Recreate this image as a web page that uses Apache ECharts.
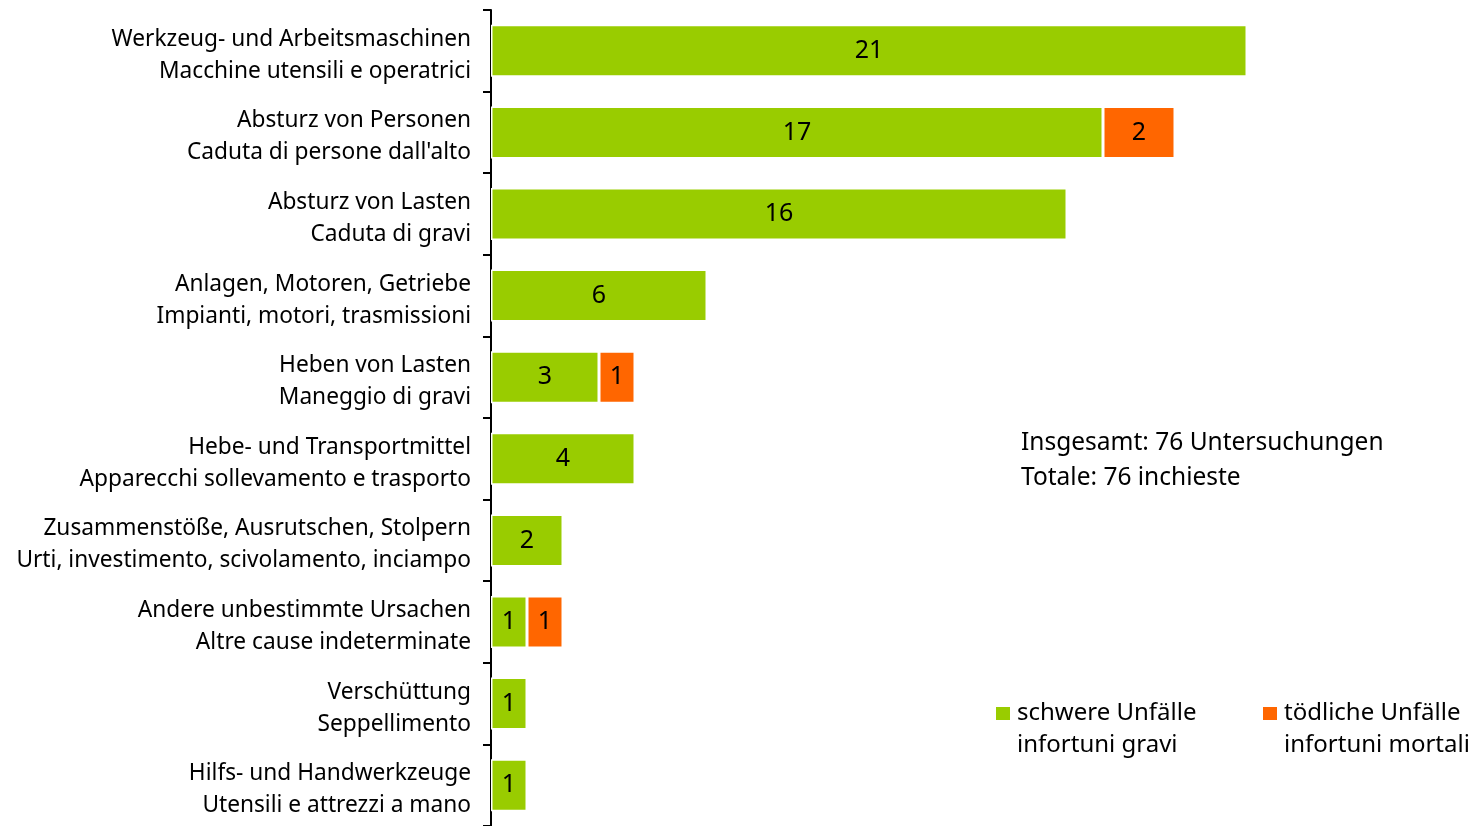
<!DOCTYPE html>
<html>
<head>
<meta charset="utf-8">
<script src="https://cdn.jsdelivr.net/npm/echarts@6/dist/echarts.min.js"></script>
<style>html,body{margin:0;padding:0;background:#fff}#c{width:1481px;height:826px}</style>
</head>
<body>
<div id="c"></div>
<script>
const categories = [
  "Werkzeug- und Arbeitsmaschinen\nMacchine utensili e operatrici",
  "Absturz von Personen\nCaduta di persone dall'alto",
  "Absturz von Lasten\nCaduta di gravi",
  "Anlagen, Motoren, Getriebe\nImpianti, motori, trasmissioni",
  "Heben von Lasten\nManeggio di gravi",
  "Hebe- und Transportmittel\nApparecchi sollevamento e trasporto",
  "Zusammenstöße, Ausrutschen, Stolpern\nUrti, investimento, scivolamento, inciampo",
  "Andere unbestimmte Ursachen\nAltre cause indeterminate",
  "Verschüttung\nSeppellimento",
  "Hilfs- und Handwerkzeuge\nUtensili e attrezzi a mano"
];
const seriousName = "schwere Unfälle\ninfortuni gravi";
const fatalName = "tödliche Unfälle\ninfortuni mortali";
const serious = [21, 17, 16, 6, 3, 4, 2, 1, 1, 1];
const fatal = [null, 2, null, null, 1, null, null, 1, null, null];
const totalText = ["Insgesamt: 76 Untersuchungen", "Totale: 76 inchieste"];

const FONT = "Noto Sans";
const chart = echarts.init(document.getElementById('c'), null, {renderer: 'canvas'});
const lbl = {show: true, position: 'inside', color: '#000', fontSize: 25, fontFamily: FONT};
const legendIcon = 'path://M0,0L14,0L14,13L0,13Z M0,44L16,44Z';
const legendText = {fontSize: 24, fontFamily: FONT, color: '#000', lineHeight: 32};
chart.setOption({
  animation: false,
  textStyle: {fontFamily: FONT},
  grid: {left: 491, top: 10, width: 900, height: 817, containLabel: false},
  xAxis: {type: 'value', min: 0, max: 25, show: false},
  yAxis: {
    type: 'category', data: categories, inverse: true,
    axisLine: {show: true, lineStyle: {color: '#000', width: 2}},
    axisTick: {show: true, length: 8, lineStyle: {color: '#000', width: 2}},
    axisLabel: {
      color: '#000', fontSize: 22.7, fontFamily: FONT, lineHeight: 32, margin: 20, align: 'right',
      formatter: v => v.split('\n').map(s => '{a|' + s + '}').join('\n'),
      rich: {a: {color: '#000', fontSize: 22.7, fontFamily: FONT, lineHeight: 32, padding: [3.5, 0, 0, 0], verticalAlign: 'bottom'}}
    }
  },
  legend: [
    {left: 996, top: 697, padding: 0, data: [seriousName], icon: legendIcon, itemWidth: 16, itemHeight: 44, itemGap: 0,
     itemStyle: {borderWidth: 0}, textStyle: legendText},
    {left: 1263, top: 697, padding: 0, data: [fatalName], icon: legendIcon, itemWidth: 16, itemHeight: 44, itemGap: 0,
     itemStyle: {borderWidth: 0}, textStyle: legendText}
  ],
  graphic: [
    {type: 'text', left: 1021, top: 426, style: {text: totalText.join('\n'), fontSize: 24.5, fontFamily: FONT, fill: '#000', lineHeight: 35}}
  ],
  series: [
    {name: seriousName, type: 'bar', stack: 's', data: serious, barWidth: 52,
     itemStyle: {color: '#99CC00', borderColor: '#fff', borderWidth: 1.5}, label: lbl},
    {name: fatalName, type: 'bar', stack: 's', data: fatal, barWidth: 52,
     itemStyle: {color: '#FF6600', borderColor: '#fff', borderWidth: 1.5}, label: lbl}
  ]
});
</script>
</body>
</html>
